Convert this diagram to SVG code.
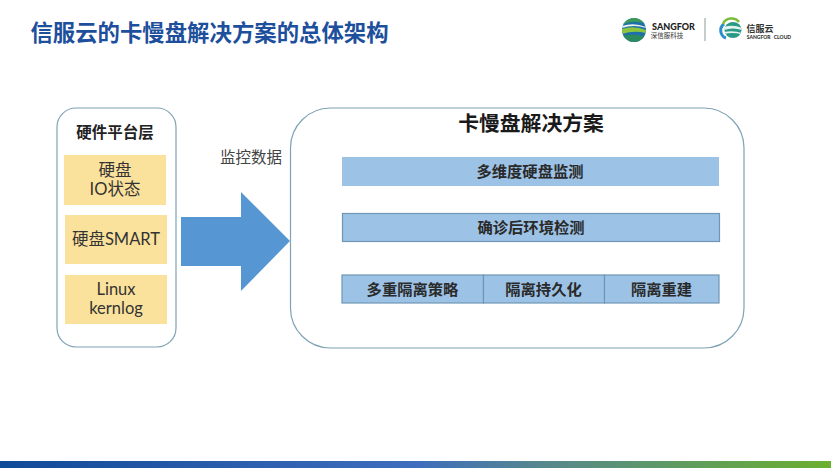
<svg xmlns="http://www.w3.org/2000/svg" width="831" height="468" viewBox="0 0 831 468">
<style>
text{font-family:Lato,"Noto Sans CJK SC",sans-serif;text-anchor:middle}
.panel{fill:#fff;stroke:#7fa3b5;stroke-width:1.2}
.y{fill:#fbe29c}
.bar{fill:#9cc2e6}
.bs{stroke:#6f96b4;stroke-width:1.2}
.l{font-size:16.500px;fill:#333}
.b{font-size:15.300px;font-weight:700;fill:#2a2a2a}
</style>
<defs>
<linearGradient id="foot" x1="0" x2="1" y1="0" y2="0">
<stop offset="0" stop-color="#0f4a98"/><stop offset=".5" stop-color="#3f6dbd"/><stop offset=".65" stop-color="#55878f"/><stop offset="1" stop-color="#6bb02e"/>
</linearGradient>
<clipPath id="globe"><circle cx="634" cy="30" r="12"/></clipPath>
<clipPath id="cloudball"><ellipse cx="733" cy="30" rx="8.500" ry="8"/></clipPath>
</defs>
<rect width="831" height="468" fill="#fff"/>
<text id="title" x="209.500" y="41" style="font-size:22.400px;font-weight:700;fill:#1d4f9c">信服云的卡慢盘解决方案的总体架构</text>
<g id="logo-sangfor">
<g clip-path="url(#globe)">
<rect x="622" y="18" width="24" height="24" fill="#1f6fa8"/>
<path d="M622 18H646V24Q634 19 622 25Z" fill="#3a9a5a"/>
<path d="M622 29Q634 25 646 30V33Q634 30 622 34Z" fill="#8cc63f"/>
<path d="M622 36Q634 33 646 37V42H622Z" fill="#2b8a5e"/>
<path d="M622 26Q634 22 646 27V28Q634 24 622 28Z" fill="#e8f3ef"/>
</g>
<text x="673.500" y="29.500" style="font-size:9px;font-weight:900;fill:#222">SANGFOR</text>
<text x="667" y="38" style="font-size:6.500px;fill:#333">深信服科技</text>
</g>
<path id="logo-divider" d="M705 18V41" stroke="#8a9a9a" stroke-width="1"/>
<g id="logo-cloud">
<path d="M724 24A8 8 0 0 0 726 38" fill="none" stroke="#2b8fc7" stroke-width="3"/>
<path d="M723 24A9 8 0 0 1 739 22" fill="none" stroke="#7dbb3c" stroke-width="2.500"/>
<g clip-path="url(#cloudball)">
<rect x="724" y="22" width="18" height="16" fill="#2a9a86"/>
<path d="M724 27Q733 24 742 28V30Q733 27 724 30Z" fill="#e6f3ee"/>
<path d="M724 32Q733 30 742 33V34.500Q733 32 724 34Z" fill="#e6f3ee"/>
</g>
<text x="760" y="31.500" style="font-size:9px;font-weight:700;fill:#333">信服云</text>
<text x="769" y="38.500" style="font-size:5px;font-weight:900;fill:#333;word-spacing:2px">SANGFOR CLOUD</text>
</g>
<g id="hardware">
<rect class="panel" x="57" y="108" width="119" height="239" rx="19"/>
<text x="115" y="138" style="font-size:15.500px;font-weight:700;fill:#222">硬件平台层</text>
</g>
<g id="disk-io">
<rect class="y" x="64" y="155" width="102" height="50"/>
<text class="l" x="115" y="176">硬盘</text>
<text class="l" x="115" y="195">IO状态</text>
</g>
<g id="disk-smart">
<rect class="y" x="65" y="215" width="102" height="49"/>
<text class="l" x="116" y="245">硬盘SMART</text>
</g>
<g id="kernlog">
<rect class="y" x="65" y="275" width="102" height="49"/>
<text class="l" x="116" y="295">Linux</text>
<text class="l" x="116" y="314">kernlog</text>
</g>
<g id="connectors">
<path d="M181 217H241V192L290 241L241 291V266H181Z" fill="#5696d2"/>
<text x="251" y="163" style="font-size:15.500px;fill:#444">监控数据</text>
</g>
<g id="solution">
<rect class="panel" x="290.500" y="108" width="453.500" height="240" rx="40"/>
<text x="531" y="131" style="font-size:20.800px;font-weight:700;fill:#1a1a1a">卡慢盘解决方案</text>
</g>
<g id="monitor">
<rect class="bar" x="342" y="157" width="377" height="29"/>
<text class="b" x="530" y="177">多维度硬盘监测</text>
</g>
<g id="env">
<rect class="bar bs" x="342.500" y="213.500" width="377" height="28"/>
<text class="b" x="531" y="233">确诊后环境检测</text>
</g>
<g id="policy">
<rect class="bar bs" x="342" y="275" width="141.500" height="28"/>
<text class="b" x="412.500" y="295">多重隔离策略</text>
</g>
<g id="persist">
<rect class="bar bs" x="483.500" y="275" width="121" height="28"/>
<text class="b" x="543.500" y="295">隔离持久化</text>
</g>
<g id="rebuild">
<rect class="bar bs" x="604.500" y="275" width="114.500" height="28"/>
<text class="b" x="661.500" y="295">隔离重建</text>
</g>
<rect id="footer" x="0" y="461" width="831" height="7" fill="url(#foot)"/>
</svg>
